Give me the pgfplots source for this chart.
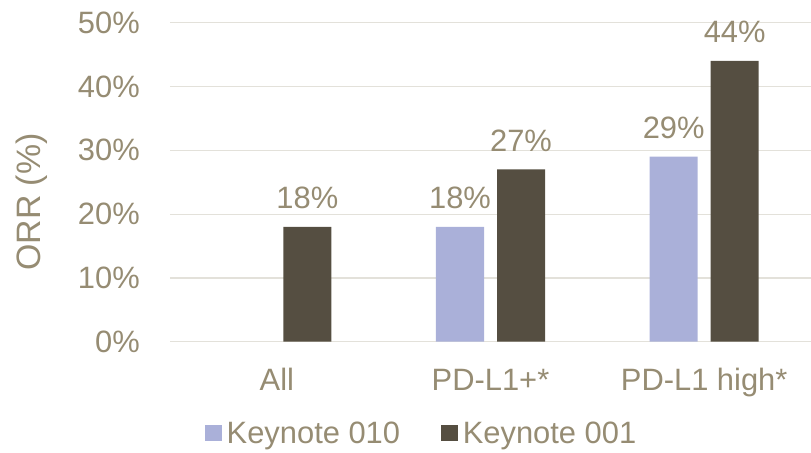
\documentclass[border=0pt]{standalone}
\usepackage{fontspec}
\setmainfont{Liberation Sans}
\usepackage{pgfplots}
\pgfplotsset{compat=1.18}
\definecolor{txt}{HTML}{968C73}
\definecolor{gridc}{HTML}{E3E1DA}
\definecolor{lav}{HTML}{AAB0D9}
\definecolor{dark}{HTML}{554E41}
\begin{document}
\begin{tikzpicture}
\path[use as bounding box] (-170bp,-111.3bp) rectangle (641bp,341.7bp);
\begin{axis}[
  at={(0,0)}, anchor=south west,
  scale only axis, width=641bp, height=319bp,
  ybar=13bp, bar width=48bp,
  xmin=-0.5, xmax=2.5, ymin=0, ymax=50,
  clip=false,
  xtick={0,1,2}, xticklabels={All,PD-L1+*,PD-L1 high*},
  ytick={0,10,20,30,40,50},
  yticklabel={\pgfmathprintnumber{\tick}\%},
  /pgf/number format/assume math mode=true,
  axis line style={draw=none},
  major tick length=0pt,
  ymajorgrids, grid style={gridc, line width=1.2bp},
  every tick label/.append style={font=\fontsize{31}{37}\selectfont, text=txt},
  yticklabel style={anchor=east, inner sep=0pt, xshift=-30bp},
  xticklabel style={anchor=base, inner sep=0pt, yshift=-48.3bp},
  ylabel={ORR (\%)},
  ylabel style={at={(axis description cs:-0.2161,0.438)}, anchor=center, inner sep=0pt, font=\fontsize{34}{40}\selectfont, text=txt},
  nodes near coords={\pgfmathprintnumber{\pgfplotspointmeta}\%},
  every node near coord/.append style={anchor=base, inner sep=0pt, yshift=18bp, font=\fontsize{31}{37}\selectfont, text=txt},
  legend columns=2,
  legend style={at={(axis description cs:0,0)}, anchor=north west, xshift=35bp, yshift=-80bp, draw=none, fill=none, inner sep=0pt, outer sep=0pt, font=\fontsize{31}{37}\selectfont, text=txt,
    /tikz/every odd column/.append style={column sep=5bp},
    /tikz/every even column/.append style={column sep=41bp},
    nodes={inner sep=0pt}},
  legend image code/.code={\fill[#1] (0bp,-8bp) rectangle (16.7bp,8.7bp);},
]
\addplot[fill=lav, draw=none] coordinates {(1,18) (2,29)};
\addplot[fill=dark, draw=none] coordinates {(0,18) (1,27) (2,44)};
\legend{Keynote 010, Keynote 001}
\end{axis}
\end{tikzpicture}
\end{document}
